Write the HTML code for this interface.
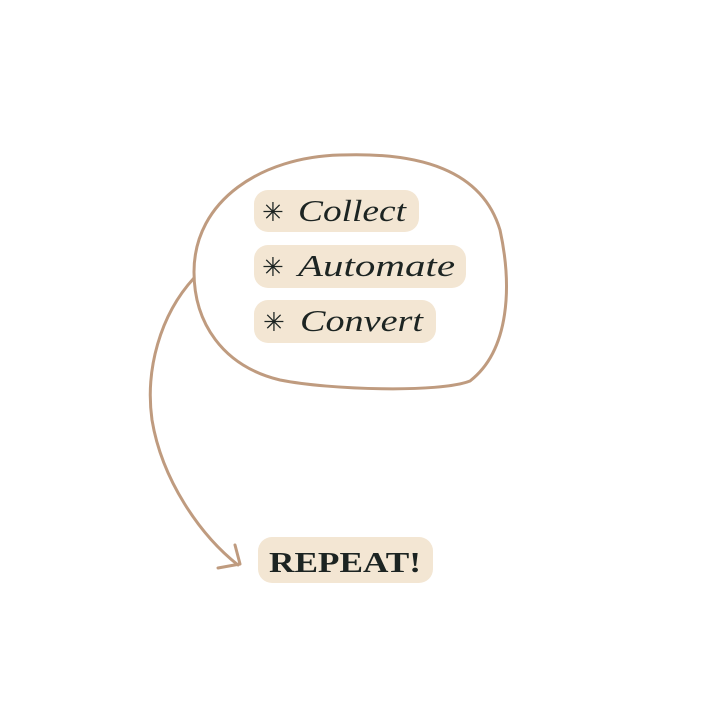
<!DOCTYPE html>
<html><head><style>
body{margin:0;background:#fff;width:701px;height:702px;overflow:hidden}
</style></head><body>
<svg width="701" height="702" xmlns="http://www.w3.org/2000/svg">
<path d="M340 155 C420 152,482 170,500 230 C512 285,510 350,470 381 C440 393,330 390,280 380 C222 366,194 322,194 272 C194 200,262 157,340 155 Z" fill="none" stroke="#bf9b7f" stroke-width="3"/>
<path d="M194 278 C160 315,145 370,152 420 C162 480,200 535,238 565" fill="none" stroke="#bf9b7f" stroke-width="3" stroke-linecap="round"/>
<path d="M235 545 L240 564 L218 568" fill="none" stroke="#bf9b7f" stroke-width="3" stroke-linecap="round" stroke-linejoin="round"/>
<g fill="#f3e6d3">
<rect x="254" y="190" width="165" height="42" rx="14"/>
<rect x="254" y="245" width="212" height="43" rx="14"/>
<rect x="254" y="300" width="182" height="43" rx="14"/>
<rect x="258" y="537" width="175" height="46" rx="14"/>
</g>
<g font-family="DejaVu Sans, sans-serif" font-size="26" fill="#1c2422">
<text x="262" y="221">✳</text>
<text x="262" y="276">✳</text>
<text x="263" y="331">✳</text>
</g>
<g font-family="Liberation Serif, serif" font-style="italic" font-size="31" fill="#1c2422" lengthAdjust="spacingAndGlyphs">
<text x="298" y="221" textLength="108" lengthAdjust="spacingAndGlyphs">Collect</text>
<text x="298" y="276" textLength="157" lengthAdjust="spacingAndGlyphs">Automate</text>
<text x="300" y="331" textLength="123" lengthAdjust="spacingAndGlyphs">Convert</text>
</g>
<text x="269" y="572" font-family="Liberation Serif, serif" font-weight="bold" font-size="29" fill="#1c2422" textLength="152" lengthAdjust="spacingAndGlyphs">REPEAT!</text>
</svg>
</body></html>
